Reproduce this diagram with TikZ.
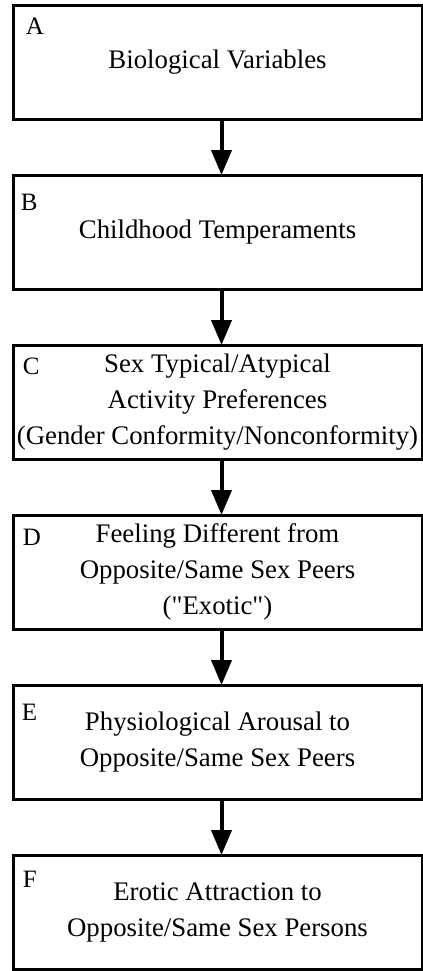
\documentclass[tikz,border=0pt]{standalone}
\usepackage{fontspec}
\setmainfont{Liberation Serif}
\newfontfamily\suora{Liberation Serif}
\usetikzlibrary{positioning,arrows.meta}

\begin{document}
\begin{tikzpicture}[auto, node distance=28pt, thick,
    laatikko/.style={rectangle,draw,line width=1.5pt,outer sep=0pt,inner sep=0pt,
      minimum width=204.5pt,minimum height=57pt,align=center,
      font=\fontsize{13.4}{18}\selectfont},
    kirjain/.style={anchor=north west,inner sep=0pt,font=\fontsize{12.5}{14}\selectfont},
    nuoli/.style={line width=2pt,-{Triangle[width=10pt,length=12.5pt]}}]

\useasboundingbox (0,0) rectangle (211.5pt,-485.5pt);

\node[laatikko,anchor=north west] (NA) at (6.5pt,-2.5pt) {Biological Variables};
\node[laatikko] (NB) [below=of NA] {Childhood Temperaments};
\node[laatikko] (NC) [below=of NB] {Sex Typical/Atypical\\Activity Preferences\\(Gender Conformity/Nonconformity)};
\node[laatikko] (ND) [below=of NC] {Feeling Different from\\Opposite/Same Sex Peers\\{\suora("Exotic")}};
\node[laatikko] (NE) [below=of ND] {Physiological Arousal to\\Opposite/Same Sex Peers};
\node[laatikko] (NF) [below=of NE] {Erotic Attraction to\\Opposite/Same Sex Persons};

\node[kirjain] (LA) at ([xshift=6pt,yshift=-6pt]NA.north west) {A};
\node[kirjain] (LB) at ([xshift=3.5pt,yshift=-9pt]NB.north west) {B};
\node[kirjain] (LC) at ([xshift=4.5pt,yshift=-6pt]NC.north west) {C};
\node[kirjain] (LD) at ([xshift=4.5pt,yshift=-6.5pt]ND.north west) {D};
\node[kirjain] (LE) at ([xshift=4pt,yshift=-9pt]NE.north west) {E};
\node[kirjain] (LF) at ([xshift=4.5pt,yshift=-7.5pt]NF.north west) {F};

 \path[nuoli]
    ([xshift=2pt]NA.south) edge ([xshift=2pt]NB.north)
    ([xshift=2pt]NB.south) edge ([xshift=2pt]NC.north)
    ([xshift=2pt]NC.south) edge ([xshift=2pt]ND.north)
    ([xshift=2pt]ND.south) edge ([xshift=2pt]NE.north)
    ([xshift=2pt]NE.south) edge ([xshift=2pt]NF.north);
\end{tikzpicture}
\end{document}
